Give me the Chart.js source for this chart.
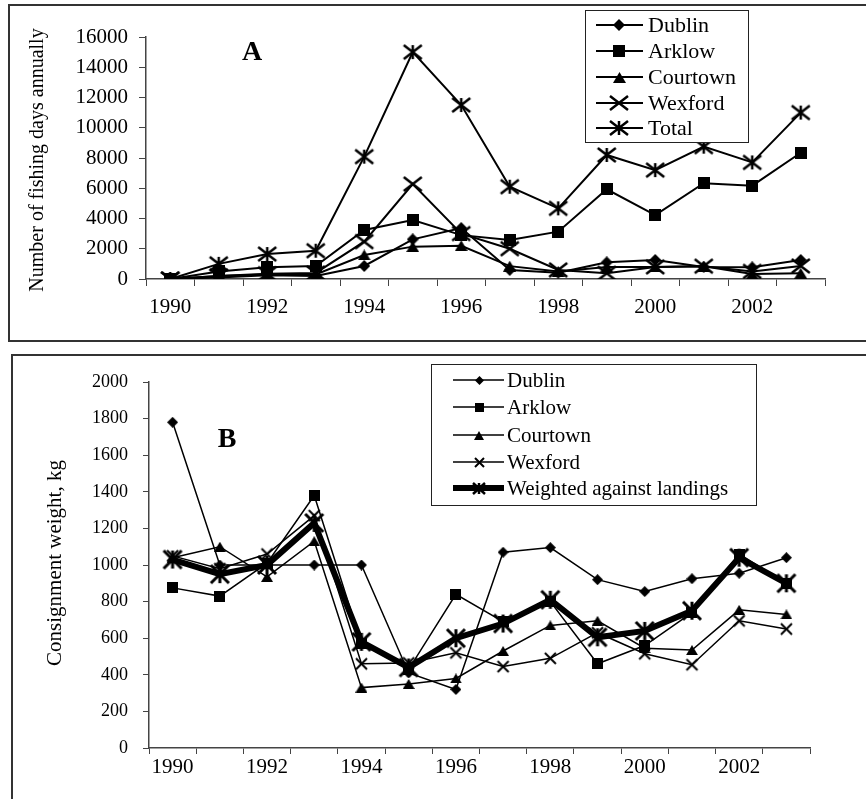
<!DOCTYPE html>
<html>
<head>
<meta charset="utf-8">
<script src="https://cdn.jsdelivr.net/npm/chart.js@4/dist/chart.umd.min.js"></script>
<style>
  html, body { margin: 0; padding: 0; background: #fff; }
  body { width: 866px; height: 799px; position: relative; overflow: hidden; }
  .frame { position: absolute; border: 2px solid #333; box-sizing: border-box; }
  canvas { position: absolute; left: 0; }
</style>
</head>
<body>
<div class="frame" style="left:8px;top:4px;width:900px;height:338px;"></div>
<div class="frame" style="left:11px;top:354px;width:900px;height:500px;"></div>
<canvas id="chartA" width="866" height="345" style="top:0"></canvas>
<canvas id="chartB" width="866" height="454" style="top:345px"></canvas>
<script>
// Years on the category axis and the ones that carry a label
const years = ['1990','1991','1992','1993','1994','1995','1996','1997','1998','1999','2000','2001','2002','2003'];
const labelledYears = ['1990','1992','1994','1996','1998','2000','2002'];

// Panel A: number of fishing days per year
const dublinDays   = [0, 100, 250, 200, 860, 2620, 3370, 600, 420, 1100, 1260, 800, 770, 1260];
const arklowDays   = [0, 500, 770, 860, 3240, 3900, 2900, 2580, 3130, 5930, 4230, 6330, 6170, 8350];
const courtownDays = [0, 200, 300, 300, 1590, 2140, 2200, 850, 500, 800, 800, 850, 330, 380];
const wexfordDays  = [0, 200, 350, 400, 2470, 6280, 3000, 2000, 600, 380, 800, 850, 500, 860];
const totalDays    = [0, 1000, 1650, 1870, 8090, 15000, 11500, 6100, 4670, 8200, 7200, 8750, 7710, 11000];

// Panel B: consignment weight (kg)
const dublinWeight   = [1780, 1000, 1000, 1000, 1000, 410, 320, 1070, 1095, 920, 855, 925, 955, 1040];
const arklowWeight   = [875, 830, 1010, 1380, 570, 430, 840, 690, 800, 460, 560, 740, 1060, 900];
const courtownWeight = [1040, 1100, 935, 1130, 330, 350, 380, 530, 670, 695, 545, 535, 755, 730];
const wexfordWeight  = [1050, 980, 1060, 1270, 460, 465, 520, 445, 490, 630, 515, 455, 695, 650];
const weightedWeight = [1030, 950, 1000, 1230, 580, 440, 600, 680, 810, 605, 640, 750, 1040, 900];

const SERIF = '"Liberation Serif", "Times New Roman", serif';

// Small bitmap markers used as point styles
function marker(shape, w, h, lw) {
  const pad = Math.ceil(lw || 0);
  const c = document.createElement('canvas');
  c.width = w + 2 * pad; c.height = h + 2 * pad;
  const g = c.getContext('2d');
  g.translate(pad, pad);
  g.fillStyle = '#000'; g.strokeStyle = '#000'; g.lineWidth = lw || 1;
  g.beginPath();
  if (shape === 'diamond') {
    g.moveTo(w / 2, 0); g.lineTo(w, h / 2); g.lineTo(w / 2, h); g.lineTo(0, h / 2); g.closePath(); g.fill();
  } else if (shape === 'square') {
    g.fillRect(0, 0, w, h);
  } else if (shape === 'triangle') {
    g.moveTo(w / 2, 0); g.lineTo(w, h); g.lineTo(0, h); g.closePath(); g.fill();
  } else if (shape === 'cross') {
    g.moveTo(0, 0); g.lineTo(w, h); g.moveTo(w, 0); g.lineTo(0, h); g.stroke();
  } else if (shape === 'asterisk') {
    g.moveTo(0, 0); g.lineTo(w, h); g.moveTo(w, 0); g.lineTo(0, h);
    g.moveTo(w / 2, 0); g.lineTo(w / 2, h); g.stroke();
  }
  return c;
}

const markersA = [
  marker('diamond', 12, 12), marker('square', 12, 12), marker('triangle', 13, 11),
  marker('cross', 18, 14, 2.5), marker('asterisk', 18, 14, 2.5)
];
const markersB = [
  marker('diamond', 11, 11), marker('square', 11, 11), marker('triangle', 12, 10),
  marker('cross', 11, 11, 2), marker('asterisk', 18, 18, 3)
];
const legendMarksB = [
  marker('diamond', 9, 9), marker('square', 9, 9), marker('triangle', 10, 9),
  marker('cross', 9, 9, 2), marker('asterisk', 12, 11, 2.5)
];

// Framed legend: line sample, marker, label
function framedLegend(cfg) {
  return {
    id: 'framedLegend',
    afterDatasetsDraw(chart) {
      const ctx = chart.ctx;
      ctx.save();
      ctx.fillStyle = '#fff';
      ctx.fillRect(cfg.x, cfg.y, cfg.w, cfg.h);
      ctx.strokeStyle = '#222'; ctx.lineWidth = 1;
      ctx.strokeRect(cfg.x + 0.5, cfg.y + 0.5, cfg.w, cfg.h);
      ctx.font = cfg.font;
      ctx.textBaseline = 'middle';
      ctx.textAlign = 'left';
      chart.data.datasets.forEach((ds, i) => {
        const y = cfg.rows[i];
        ctx.strokeStyle = '#000';
        ctx.lineWidth = ds.borderWidth;
        ctx.beginPath(); ctx.moveTo(cfg.x0, y); ctx.lineTo(cfg.x1, y); ctx.stroke();
        const m = cfg.marks[i];
        ctx.drawImage(m, Math.round(cfg.mx - m.width / 2), Math.round(y - m.height / 2));
        ctx.fillStyle = '#000';
        ctx.fillText(ds.label, cfg.tx, y + 1);
      });
      ctx.restore();
    }
  };
}

// Panel letter and vertical axis title
function panelText(cfg) {
  return {
    id: 'panelText',
    afterDraw(chart) {
      const ctx = chart.ctx;
      ctx.save();
      ctx.fillStyle = '#000';
      ctx.textAlign = 'center'; ctx.textBaseline = 'middle';
      ctx.font = 'bold 28px ' + SERIF;
      ctx.fillText(cfg.letter, cfg.lx, cfg.ly);
      ctx.translate(cfg.tx, cfg.ty);
      ctx.rotate(-Math.PI / 2);
      ctx.font = cfg.titleFont;
      ctx.fillText(cfg.title, 0, 0);
      ctx.restore();
    }
  };
}

function lineSet(label, data, mk, width, order) {
  return {
    label, data,
    borderColor: '#000', backgroundColor: '#000',
    borderWidth: width, pointStyle: mk, pointRadius: 6, pointHoverRadius: 6,
    tension: 0, fill: false, order: order || 0
  };
}

function xAxis(h, tl, pad) {
  return {
    type: 'category', offset: true,
    grid: { offset: true, drawOnChartArea: false, drawTicks: true, tickLength: tl, color: '#444', lineWidth: 1 },
    border: { display: true, color: '#444', width: 1.5 },
    ticks: {
      autoSkip: false, maxRotation: 0, minRotation: 0, padding: pad, color: '#000',
      font: { family: SERIF, size: 21 },
      callback: (v, i) => labelledYears.includes(years[i]) ? years[i] : ''
    },
    afterFit: s => { s.height = h; }
  };
}

function yAxis(w, max, step, tl, pad, size) {
  return {
    min: 0, max: max,
    grid: { drawOnChartArea: false, drawTicks: true, tickLength: tl, color: '#444', lineWidth: 1 },
    border: { display: true, color: '#444', width: 1.5 },
    ticks: {
      stepSize: step, padding: pad, color: '#000', font: { family: SERIF, size: size },
      callback: v => String(v)
    },
    afterFit: s => { s.width = w; }
  };
}

const common = {
  responsive: false, animation: false, devicePixelRatio: 1,
  plugins: { legend: { display: false }, tooltip: { enabled: false } },
  events: []
};

new Chart(document.getElementById('chartA'), {
  type: 'line',
  data: {
    labels: years,
    datasets: [
      lineSet('Dublin', dublinDays, markersA[0], 2),
      lineSet('Arklow', arklowDays, markersA[1], 2),
      lineSet('Courtown', courtownDays, markersA[2], 2),
      lineSet('Wexford', wexfordDays, markersA[3], 2),
      lineSet('Total', totalDays, markersA[4], 2)
    ]
  },
  options: Object.assign({}, common, {
    layout: { padding: { top: 37, right: 41, left: 0, bottom: 0 } },
    scales: { x: xAxis(66, 7, 9), y: yAxis(146, 16000, 2000, 7, 11, 21) }
  }),
  plugins: [
    framedLegend({ x: 585, y: 10, w: 163, h: 132, rows: [25, 51, 77, 103, 128],
      x0: 596, x1: 643, mx: 619, tx: 648, marks: markersA, font: '22px ' + SERIF }),
    panelText({ letter: 'A', lx: 252, ly: 53, tx: 38, ty: 160,
      title: 'Number of fishing days annually', titleFont: '20px ' + SERIF })
  ]
});

new Chart(document.getElementById('chartB'), {
  type: 'line',
  data: {
    labels: years,
    datasets: [
      lineSet('Dublin', dublinWeight, markersB[0], 1.5),
      lineSet('Arklow', arklowWeight, markersB[1], 1.5),
      lineSet('Courtown', courtownWeight, markersB[2], 1.5),
      lineSet('Wexford', wexfordWeight, markersB[3], 1.5),
      lineSet('Weighted against landings', weightedWeight, markersB[4], 6, -1)
    ]
  },
  options: Object.assign({}, common, {
    layout: { padding: { top: 37, right: 56, left: 0, bottom: 0 } },
    scales: { x: xAxis(51, 6, 1), y: yAxis(149, 2000, 200, 6, 15, 18) }
  }),
  plugins: [
    framedLegend({ x: 431, y: 19, w: 325, h: 141, rows: [35, 62, 90, 117, 143],
      x0: 453, x1: 504, mx: 479, tx: 507, marks: legendMarksB, font: '21px ' + SERIF }),
    panelText({ letter: 'B', lx: 227, ly: 95, tx: 55, ty: 218,
      title: 'Consignment weight, kg', titleFont: '21px ' + SERIF })
  ]
});
</script>
</body>
</html>
